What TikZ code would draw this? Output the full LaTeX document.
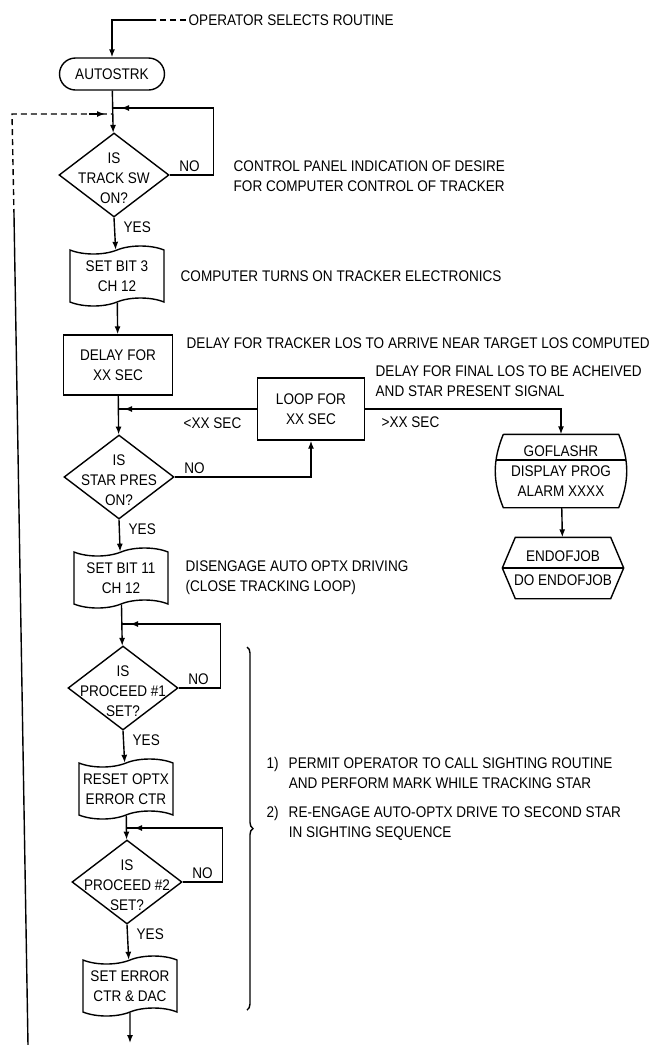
\documentclass[tikz,border=0pt]{standalone}
\usepackage{fontspec}
\setmainfont{Liberation Sans}[FakeStretch=0.88]
\usepackage{tikz}
\usetikzlibrary{shapes.geometric,shapes.misc,shapes.symbols,arrows.meta,decorations.pathreplacing}
\newcommand{\chartfont}{\fontsize{7.7}{10}\selectfont}

\begin{document}
\begin{tikzpicture}[x=0.5pt, y=-0.5pt, line width=0.7pt, font=\chartfont,
    >={Latex[length=4pt,width=3pt]},
    term/.style={draw, rounded rectangle, minimum width=54.5pt, minimum height=16pt, inner sep=1pt},
    decision/.style={draw, diamond, inner sep=0pt, minimum width=55pt, minimum height=42pt},
    dtext/.style={align=center, yshift=-1.5pt},
    docbox/.style={draw, tape, tape bend height=4pt, minimum width=47pt, minimum height=30pt, align=center, inner sep=1pt},
    procbox/.style={draw, rectangle, minimum width=54.5pt, minimum height=30pt, align=center},
    nolabel/.style={anchor=south west, inner sep=1.5pt, xshift=3pt},
    yeslabel/.style={anchor=north west, inner sep=1.5pt, xshift=3pt},
    note/.style={anchor=west, align=left, inner sep=0pt}]
\useasboundingbox (0,0) rectangle (657,1045);

% main column
\node[anchor=west, inner sep=1pt] (opr) at (186,20) {OPERATOR SELECTS ROUTINE};
\node[term] (auto) at (112,74) {AUTOSTRK};
\node[decision, label={[dtext]center:IS\\TRACK SW\\ON?}] (track) at (114,175) {};
\node[docbox] (bit3) at (117,276) {SET BIT 3\\CH 12};
\node[procbox] (delay) at (118,365) {DELAY FOR\\XX SEC};
\node[decision, label={[dtext]center:IS\\STAR PRES\\ON?}] (star) at (119,477) {};
\node[docbox] (bit11) at (121,578) {SET BIT 11\\CH 12};
\node[decision, label={[dtext]center:IS\\PROCEED \#1\\SET?}] (pro1) at (123,688) {};
\node[docbox] (reset) at (126,789) {RESET OPTX\\ERROR CTR};
\node[decision, label={[dtext]center:IS\\PROCEED \#2\\SET?}] (pro2) at (127,882) {};
\node[docbox] (dac) at (130,986) {SET ERROR\\CTR \& DAC};

% side branch
\node[procbox, minimum width=53.5pt, minimum height=31pt] (loop) at (311,409) {LOOP FOR\\XX SEC};
\node[align=center, minimum width=57pt, minimum height=36pt, inner sep=0pt] (gof) at (561,471) {GOFLASHR\\DISPLAY PROG\\ALARM XXXX};
\draw (gof.north west) -- (gof.north east) to[bend left=22] (gof.south east) -- (gof.south west) to[bend left=22] (gof.north west);
\draw ([xshift=-3.5pt, yshift=5.5pt]gof.west) -- ([xshift=3.5pt, yshift=5.5pt]gof.east);
\node[align=center, minimum width=60pt, minimum height=30pt, inner sep=0pt] (eoj) at (563,568) {ENDOFJOB\\[2pt]DO ENDOFJOB};
\draw (eoj.west) -- ([xshift=6.5pt]eoj.north west) -- ([xshift=-6.5pt]eoj.north east) -- (eoj.east) -- ([xshift=-6.5pt]eoj.south east) -- ([xshift=6.5pt]eoj.south west) -- cycle;
\draw (eoj.west) -- (eoj.east);

% connectors
\coordinate (j1) at (113,108);
\coordinate (j0) at (113,114);
\coordinate (j2) at (118,409);
\coordinate (j3) at (122,624);
\coordinate (j4) at (126,828);
\coordinate (exit) at (130,1043);
\draw[densely dashed] (opr.west) -- ++(-30,0) coordinate (ent);
\draw[->] (ent) -| (auto.north);
\draw[->] (auto) -- (track);
\draw (track.east) node[nolabel] {NO} -- ++(44,0) |- (j1);
\draw[->] ([xshift=10pt]j1) -- ([xshift=4pt]j1);
\draw[->] (track.south) node[yeslabel] {YES} -- (bit3);
\draw[->] (bit3) -- (delay);
\draw[->] (delay) -- (star);
\draw (loop.west) -- (j2);
\draw[->] ([xshift=10pt]j2) -- ([xshift=3pt]j2);
\draw[->] (star.east) node[nolabel] {NO} -| (loop.south);
\draw[->] (star.south) node[yeslabel] {YES} -- (bit11);
\draw[->] (loop.east) -| (gof.north);
\draw[->] (gof) -- (eoj);
\draw[->] (bit11) -- (pro1);
\draw (pro1.east) node[nolabel] {NO} -- ++(42,0) |- (j3);
\draw[->] ([xshift=10pt]j3) -- ([xshift=4pt]j3);
\draw[->] (pro1.south) node[yeslabel] {YES} -- (reset);
\draw[->] (reset) -- (pro2);
\draw (pro2.east) node[nolabel] {NO} -- ++(40,0) |- (j4);
\draw[->] ([xshift=10pt]j4) -- ([xshift=4pt]j4);
\draw[->] (pro2.south) node[yeslabel] {YES} -- (dac);
\draw[->] (dac) -- (exit);

% return from the next page
\coordinate (back) at (28,1045);
\coordinate (bk2) at (14,215);
\coordinate (bk) at (12,114);
\draw (back) -- (bk2);
\draw[densely dashed] (bk2) -- (bk) -- (j0);
\draw[->] ([xshift=-12pt]j0) -- ([xshift=-4pt]j0);

% notes
\node[note] (ctrl) at (233,176) {CONTROL PANEL INDICATION OF DESIRE\\FOR COMPUTER CONTROL OF TRACKER};
\node[note] (elec) at (180,276) {COMPUTER TURNS ON TRACKER ELECTRONICS};
\node[note] (los) at (186,343) {DELAY FOR TRACKER LOS TO ARRIVE NEAR TARGET LOS COMPUTED};
\node[note] (final) at (375,381) {DELAY FOR FINAL LOS TO BE ACHEIVED\\AND STAR PRESENT SIGNAL};
\node[note] (less) at (183,423) {<XX SEC};
\node[note] (more) at (381,422) {>XX SEC};
\node[note] (dis) at (185,578) {DISENGAGE AUTO OPTX DRIVING\\(CLOSE TRACKING LOOP)};
\draw[decorate, decoration={brace, amplitude=3pt}] (247,647) -- (247,1010);
\node[note] (perm) at (266,774) {\begin{tabular}{@{}l@{\hspace{5pt}}l@{}}1) & PERMIT OPERATOR TO CALL SIGHTING ROUTINE\\ & AND PERFORM MARK WHILE TRACKING STAR\end{tabular}};
\node[note] (reeng) at (266,823) {\begin{tabular}{@{}l@{\hspace{5pt}}l@{}}2) & RE-ENGAGE AUTO-OPTX DRIVE TO SECOND STAR\\ & IN SIGHTING SEQUENCE\end{tabular}};
\end{tikzpicture}
\end{document}
